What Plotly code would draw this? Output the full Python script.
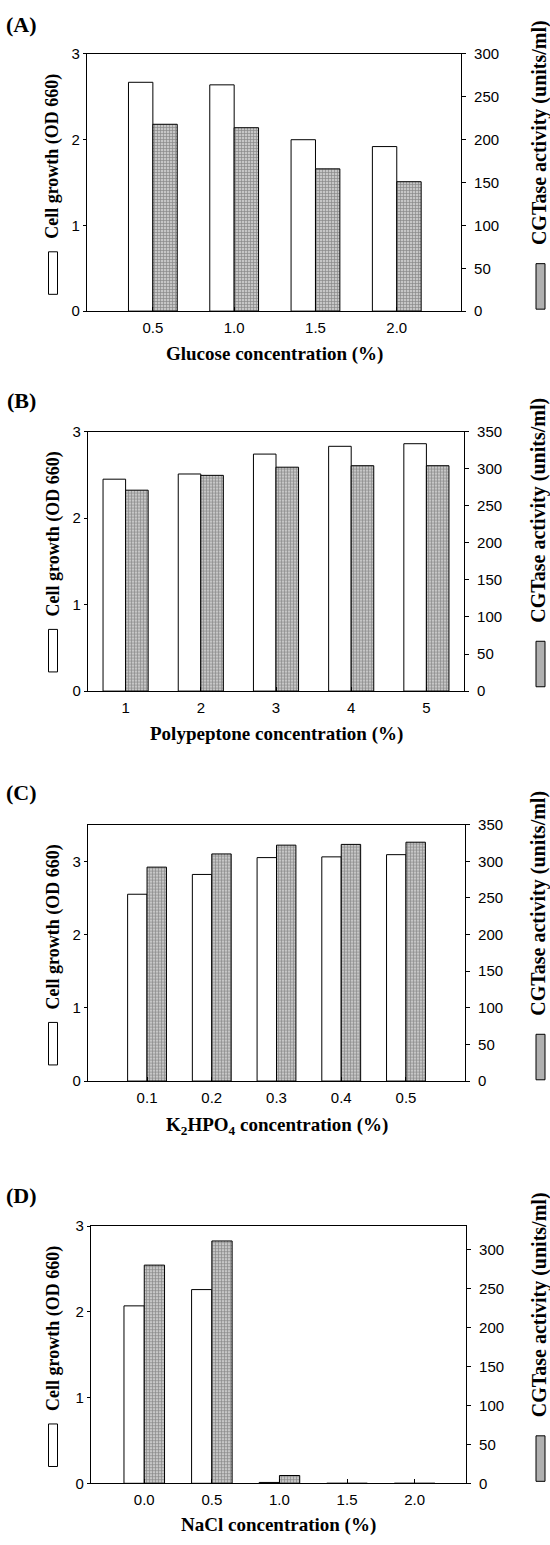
import plotly.graph_objects as go

# ---------------- data ----------------
glucose_conc = [0.5, 1.0, 1.5, 2.0]
glucose_labels = ["0.5", "1.0", "1.5", "2.0"]
glucose_growth = [2.67, 2.64, 2.00, 1.92]
glucose_activity = [218, 214, 166, 151]

peptone_conc = [1, 2, 3, 4, 5]
peptone_labels = ["1", "2", "3", "4", "5"]
peptone_growth = [2.45, 2.51, 2.74, 2.83, 2.86]
peptone_activity = [271, 291, 302, 304, 304]

k2hpo4_conc = [0.1, 0.2, 0.3, 0.4, 0.5]
k2hpo4_labels = ["0.1", "0.2", "0.3", "0.4", "0.5"]
k2hpo4_growth = [2.55, 2.82, 3.05, 3.06, 3.09]
k2hpo4_activity = [292, 310, 322, 323, 326]

nacl_conc = [0.0, 0.5, 1.0, 1.5, 2.0]
nacl_labels = ["0.0", "0.5", "1.0", "1.5", "2.0"]
nacl_growth = [2.07, 2.26, 0.01, 0.0, 0.0]
nacl_activity = [280, 311, 10, 0, 0]

panel_letters = ["(A)", "(B)", "(C)", "(D)"]
x_titles = [
    "Glucose concentration (%)",
    "Polypeptone concentration (%)",
    "K<sub>2</sub>HPO<sub>4</sub> concentration (%)",
    "NaCl concentration (%)",
]
left_title = "Cell growth (OD 660)"
right_title = "CGTase activity (units/ml)"

# ---------------- layout constants ----------------
W, H = 550, 1545
SERIF = "Liberation Serif, Times New Roman, serif"
SANS = "Liberation Sans, Arial, sans-serif"

panels = [
    dict(cats=glucose_conc, labels=glucose_labels, g=glucose_growth, a=glucose_activity,
         box=(87, 461, 45.5, 305.5), xr=[0.095, 2.395], bw=0.15, yl=[0, 3], yr=[0, 300],
         letter_y=16, xt_y=349),
    dict(cats=peptone_conc, labels=peptone_labels, g=peptone_growth, a=peptone_activity,
         box=(88, 464, 427.3, 689.7), xr=[0.5, 5.5], bw=0.3, yl=[0, 3], yr=[0, 350],
         letter_y=396, xt_y=733),
    dict(cats=k2hpo4_conc, labels=k2hpo4_labels, g=k2hpo4_growth, a=k2hpo4_activity,
         box=(88, 465, 824.7, 1084), xr=[0.0088, 0.5912], bw=0.03, yl=[0, 3.5], yr=[0, 350],
         letter_y=792, xt_y=1129),
    dict(cats=nacl_conc, labels=nacl_labels, g=nacl_growth, a=nacl_activity,
         box=(91, 466, 1230.7, 1490.7), xr=[-0.394, 2.38], bw=0.15, yl=[0, 3], yr=[0, 330],
         letter_y=1200, xt_y=1533),
]


def fx(px):
    return px / W


def fy(py):
    return 1 - py / H


fig = go.Figure()
layout = dict(
    width=W, height=H, autosize=False,
    margin=dict(l=0, r=0, t=0, b=0),
    paper_bgcolor="white", plot_bgcolor="white",
    showlegend=False, barmode="overlay",
    annotations=[], shapes=[],
)

tickfont = dict(family=SANS, size=15, color="black")
line_kw = dict(showline=True, linecolor="black", linewidth=1.2, showgrid=False, zeroline=False)

for i, p in enumerate(panels):
    xn = "x" if i == 0 else f"x{i+1}"
    yln = f"y{2*i+1}" if i > 0 else "y"
    yrn = f"y{2*i+2}"
    xkey = "xaxis" if i == 0 else f"xaxis{i+1}"
    ylkey = "yaxis" if i == 0 else f"yaxis{2*i+1}"
    yrkey = f"yaxis{2*i+2}"
    L, R, T, B = p["box"]
    bw = p["bw"]

    fig.add_trace(go.Bar(
        x=p["cats"], y=p["g"], xaxis=xn, yaxis=yln, width=bw, offset=-bw,
        marker=dict(color="white", line=dict(color="black", width=1)),
    ))
    fig.add_trace(go.Bar(
        x=p["cats"], y=p["a"], xaxis=xn, yaxis=yrn, width=bw, offset=0,
        marker=dict(color="#bdbdbd", line=dict(color="black", width=1),
                    pattern=dict(shape="+", fgcolor="#4a4a4a", bgcolor="#c6c6c6",
                                 size=3, solidity=0.4)),
    ))

    layout[xkey] = dict(
        domain=[fx(L), fx(R)], anchor=yln, range=p["xr"],
        tickmode="array", tickvals=p["cats"], ticktext=p["labels"],
        ticks="inside", ticklen=4, tickcolor="black", tickwidth=1,
        ticklabelstandoff=3,
        tickfont=tickfont, mirror=True, **line_kw,
    )
    layout[ylkey] = dict(
        domain=[fy(B), fy(T)], anchor=xn, range=p["yl"], dtick=1, tick0=0,
        ticks="outside", ticklen=3, tickcolor="black", tickwidth=1,
        tickfont=tickfont, **line_kw,
    )
    layout[yrkey] = dict(
        overlaying=yln, side="right", anchor=xn, range=p["yr"], dtick=50, tick0=0,
        ticks="outside", ticklen=4, tickcolor="black", tickwidth=1,
        ticklabelstandoff=5,
        tickfont=tickfont, **line_kw,
    )

    # panel letter
    layout["annotations"].append(dict(
        text=f"<b>{panel_letters[i]}</b>", x=fx(21), y=fy(p["letter_y"]),
        xref="paper", yref="paper", xanchor="center", yanchor="middle",
        showarrow=False, font=dict(family=SERIF, size=22, color="black"),
    ))
    # x-axis title
    layout["annotations"].append(dict(
        text=f"<b>{x_titles[i]}</b>", x=fx((L + R) / 2), y=fy(p["xt_y"]),
        xref="paper", yref="paper", xanchor="center", yanchor="middle",
        showarrow=False, font=dict(family=SERIF, size=19, color="black"),
    ))
    # left title + white legend box
    layout["annotations"].append(dict(
        text=f"<b>{left_title}</b>", x=fx(53), y=fy(T + 104), textangle=-90,
        xref="paper", yref="paper", xanchor="center", yanchor="middle",
        showarrow=False, font=dict(family=SERIF, size=18, color="black"),
    ))
    layout["shapes"].append(dict(
        type="rect", xref="paper", yref="paper",
        x0=fx(48.5), x1=fx(57.5), y0=fy(T + 243), y1=fy(T + 200),
        line=dict(color="black", width=1), fillcolor="white",
    ))
    # right title + gray legend box
    layout["annotations"].append(dict(
        text=f"<b>{right_title}</b>", x=fx(539), y=fy(T + 80), textangle=-90,
        xref="paper", yref="paper", xanchor="center", yanchor="middle",
        showarrow=False, font=dict(family=SERIF, size=20, color="black"),
    ))
    layout["shapes"].append(dict(
        type="rect", xref="paper", yref="paper",
        x0=fx(536), x1=fx(545), y0=fy(T + 258), y1=fy(T + 212),
        line=dict(color="black", width=1), fillcolor="#b0b0b0",
    ))

fig.update_layout(**layout)
fig.write_html(
    "out.html",
    config={"displayModeBar": False},
    post_script="document.body.style.margin='0';document.body.style.overflow='hidden';",
)
